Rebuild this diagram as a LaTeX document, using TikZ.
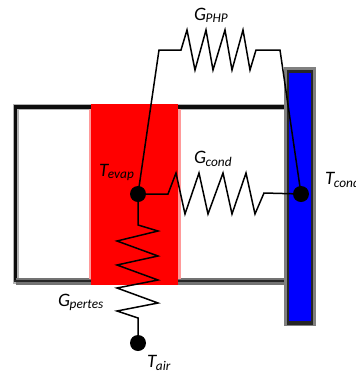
\documentclass[tikz,border=0pt]{standalone}
\usepackage{fontspec}
\setmainfont{Carlito}
\tikzset{
  junction/.style={circle, fill=black, inner sep=0pt, minimum size=16pt},
  wire/.style={line width=1.5pt, line join=miter},
  wall/.style={line width=4pt, black!95},
  wallhalo/.style={line width=6pt, black!30},
  tlabel/.style={inner sep=0pt, font=\itshape\fontsize{19}{21}\selectfont, text=black},
}
\newcommand{\lab}[2]{#1\textsubscript{\kern-0.5pt#2}}
\begin{document}
\begin{tikzpicture}[x=1pt, y=-1pt]
            \useasboundingbox (0,0) rectangle (356,376);
            \draw[wallhalo] (287,106.5) -- (15.5,106.5) -- (15.5,281) -- (287,281);
            \draw[wall] (287,106.5) -- (15.5,106.5) -- (15.5,281);
            \draw[line width=7pt, black!55] (15.5,281) -- (287,281);
            \draw[line width=2.5pt, black!85] (13.5,281) -- (287,281);
            \fill[red] (91,104) rectangle (178,285);
            \fill[red!40] (88.5,109) rectangle (91,279);
            \fill[red!40] (178,109) rectangle (181,279);
            \fill[black!50] (284,67) rectangle (316,326);
            \fill[black!85] (287,70) rectangle (313,325);
            \fill[blue] (289,73) rectangle (311,321);
            \node[junction] (evap) at (138,194) {};
            \node[junction] (cond) at (301,194) {};
            \node[junction] (air) at (138,343) {};
            \draw[wire] (evap.center) -- (159,50) -- (181,50) -- (187,30) -- (195,70) -- (206,30) -- (213,70) -- (225,30) -- (232,70) -- (243,30) -- (250,70) -- (256,50) -- (280,50) -- (cond.center);
            \draw[wire] (evap.center) -- (168,194) -- (176,173) -- (185,214) -- (199,173) -- (208,214) -- (223,173) -- (232,214) -- (246,173) -- (255,214) -- (264,193) -- (cond.center);
            \draw[wire] (evap.center) -- (138,225) -- (158,231) -- (117,241) -- (158,256) -- (117,265) -- (158,280) -- (117,288) -- (158,303) -- (117,311) -- (138,318) -- (air.center);
            \node[tlabel, anchor=base west] (gphp) at (194,20) {\lab{G}{PHP}};
            \node[tlabel, anchor=base west] (gcond) at (194,163) {\lab{G}{cond}};
            \node[tlabel, anchor=base west] (gpertes) at (58,306) {\lab{G}{pertes}};
            \node[tlabel, anchor=base west] (tevap) at (99,176) {\lab{T}{evap}};
            \node[tlabel, anchor=base west] (tcond) at (325,184) {\lab{T}{cond}};
            \node[tlabel, anchor=base west] (tair) at (147,367) {\lab{T}{air}};
        \end{tikzpicture}
\end{document}
